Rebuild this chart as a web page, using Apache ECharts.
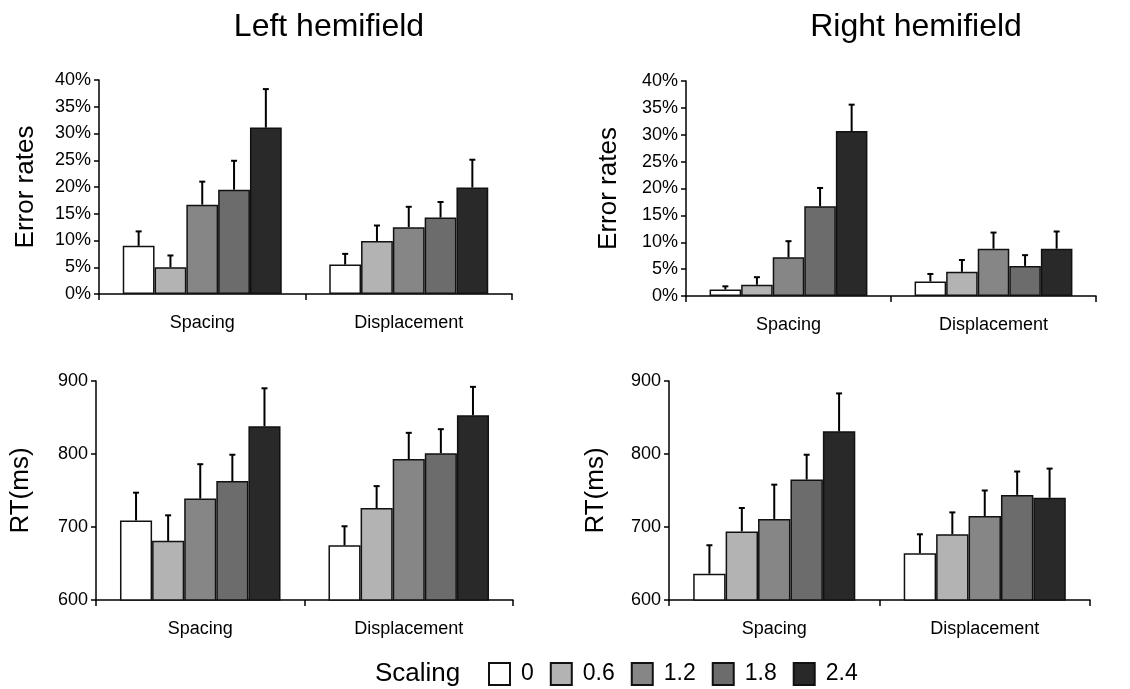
<!DOCTYPE html>
<html>
<head>
<meta charset="utf-8">
<script src="https://cdn.jsdelivr.net/npm/echarts@6/dist/echarts.min.js"></script>
<style>html,body{margin:0;padding:0;background:#fff}#c{width:1130px;height:689px}</style>
</head>
<body>
<div id="c"></div>
<script>
const categories = ['Spacing', 'Displacement'];
const scaling = ['0', '0.6', '1.2', '1.8', '2.4'];
const colors = ['#ffffff', '#b3b3b3', '#868686', '#6c6c6c', '#292929'];
const panelTitles = ['Left hemifield', 'Right hemifield'];
const errTicks = [0, 5, 10, 15, 20, 25, 30, 35, 40];
const rtTicks = [600, 700, 800, 900];

// Each row: one scaling level, values for [Spacing, Displacement]
const errLeftMean = [[9.0, 5.5], [5.0, 9.9], [16.7, 12.5], [19.5, 14.3], [31.1, 19.9]];
const errLeftSem  = [[2.7, 2.0], [2.2, 2.9], [4.3, 3.8], [5.4, 2.9], [7.2, 5.2]];
const errRightMean = [[1.2, 2.7], [2.1, 4.5], [7.2, 8.8], [16.7, 5.6], [30.7, 8.8]];
const errRightSem  = [[0.6, 1.4], [1.4, 2.2], [3.0, 3.0], [3.4, 2.0], [4.9, 3.2]];
const rtLeftMean = [[709, 675], [681, 726], [739, 793], [763, 801], [838, 853]];
const rtLeftSem  = [[38, 26], [35, 30], [47, 36], [36, 33], [52, 39]];
const rtRightMean = [[636, 664], [694, 690], [711, 715], [765, 744], [831, 740]];
const rtRightSem  = [[39, 26], [32, 30], [47, 35], [34, 32], [52, 40]];

const FONT = "'Liberation Sans', Arial, Helvetica, sans-serif";
const CAT_GAP = 0.23;

const panels = [
  { mean: errLeftMean, sem: errLeftSem, grid: { left: 99, top: 80, width: 413, height: 214 }, name: 'Error rates', ticks: errTicks, pct: true, nameGap: 60 },
  { mean: errRightMean, sem: errRightSem, grid: { left: 686, top: 81, width: 410, height: 215 }, name: 'Error rates', ticks: errTicks, pct: true, nameGap: 64 },
  { mean: rtLeftMean, sem: rtLeftSem, grid: { left: 96, top: 381, width: 417, height: 219 }, name: 'RT(ms)', ticks: rtTicks, pct: false, nameGap: 62 },
  { mean: rtRightMean, sem: rtRightSem, grid: { left: 669, top: 381, width: 421, height: 219 }, name: 'RT(ms)', ticks: rtTicks, pct: false, nameGap: 60 }
];

const grids = [], xAxes = [], yAxes = [], series = [];
panels.forEach((p, pi) => {
  grids.push(Object.assign({ containLabel: false }, p.grid));
  xAxes.push({
    type: 'category', gridIndex: pi, data: categories,
    axisLine: { lineStyle: { color: '#000', width: 1.5 } },
    axisTick: { show: true, length: 6, lineStyle: { color: '#000', width: 1.5 } },
    axisLabel: { color: '#000', fontSize: 18, fontFamily: FONT, margin: 20 },
    splitLine: { show: false }
  });
  const t = p.ticks;
  yAxes.push({
    type: 'value', gridIndex: pi,
    min: t[0], max: t[t.length - 1], interval: t[1] - t[0],
    name: p.name, nameLocation: 'middle', nameGap: p.nameGap, nameRotate: 90,
    nameTextStyle: { color: '#000', fontSize: 26, fontFamily: FONT },
    axisLine: { show: true, lineStyle: { color: '#000', width: 1.5 } },
    axisTick: { show: true, length: 5, lineStyle: { color: '#000', width: 1.5 } },
    axisLabel: { color: '#000', fontSize: 18, fontFamily: FONT, margin: 8,
      formatter: p.pct ? '{value}%' : '{value}' },
    splitLine: { show: false }
  });
  scaling.forEach((s, si) => {
    series.push({
      type: 'bar', name: s, xAxisIndex: pi, yAxisIndex: pi,
      data: p.mean[si],
      barGap: '0%', barCategoryGap: (CAT_GAP * 100) + '%',
      itemStyle: { color: colors[si], borderColor: '#111', borderWidth: 1.5 },
      emphasis: { disabled: true },
      z: 2
    });
  });
  const errData = [];
  scaling.forEach((s, si) => {
    categories.forEach((c, ci) => {
      errData.push([ci, si, p.mean[si][ci], p.mean[si][ci] + p.sem[si][ci]]);
    });
  });
  series.push({
    type: 'custom', name: 'err' + pi, xAxisIndex: pi, yAxisIndex: pi,
    data: errData, encode: { x: 0, y: 3 }, z: 5, silent: true,
    renderItem: function (params, api) {
      const ci = api.value(0), si = api.value(1);
      const base = api.coord([ci, api.value(2)]);
      const top = api.coord([ci, api.value(3)]);
      const catW = api.size([1, 0])[0];
      const bw = catW * (1 - CAT_GAP) / scaling.length;
      const x = base[0] + (si - (scaling.length - 1) / 2) * bw;
      const st = { stroke: '#000', lineWidth: 2 };
      return { type: 'group', children: [
        { type: 'line', shape: { x1: x, y1: base[1], x2: x, y2: top[1] }, style: st },
        { type: 'line', shape: { x1: x - 3, y1: top[1], x2: x + 3, y2: top[1] }, style: st }
      ] };
    }
  });
});

const chart = echarts.init(document.getElementById('c'), null, { renderer: 'canvas' });
chart.setOption({
  animation: false,
  backgroundColor: '#fff',
  grid: grids, xAxis: xAxes, yAxis: yAxes, series: series,
  legend: {
    data: scaling, left: 488, top: 662, padding: 0, itemGap: 16,
    itemWidth: 21, itemHeight: 22, icon: 'rect', selectedMode: false,
    textStyle: { color: '#000', fontSize: 23, fontFamily: FONT, padding: [0, 0, 0, 6] }
  },
  graphic: [
    { type: 'text', x: 329, y: 27, style: { text: panelTitles[0], fill: '#000', font: '32px ' + FONT, align: 'center', verticalAlign: 'middle' } },
    { type: 'text', x: 916, y: 27, style: { text: panelTitles[1], fill: '#000', font: '32px ' + FONT, align: 'center', verticalAlign: 'middle' } },
    { type: 'text', x: 375, y: 674, style: { text: 'Scaling', fill: '#000', font: '26px ' + FONT, align: 'left', verticalAlign: 'middle' } }
  ]
});
</script>
</body>
</html>
